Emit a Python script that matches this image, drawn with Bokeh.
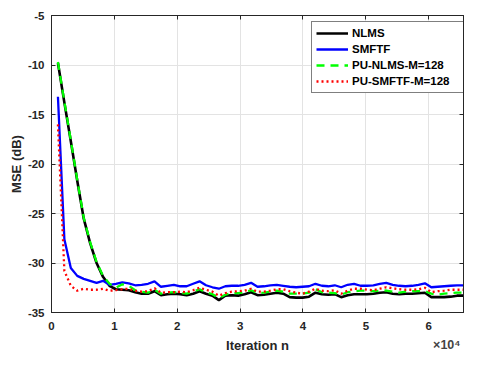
from bokeh.plotting import figure
from bokeh.models import Range1d, LinearAxis, FixedTicker, Legend, LegendItem, Label
from bokeh.embed import file_html
from bokeh.resources import INLINE

# ---- data ----
iterations = [1024 * k for k in range(1, 65)]

nlms = [-9.8, -13.8, -17.7, -21.7, -25.5, -28.0, -30.0, -31.4, -32.3,
        -32.65, -32.7, -32.75, -32.95, -33.1, -33.1, -32.85, -33.25, -33.15, -33.1,
        -33.15, -33.25, -33.1, -32.85, -33.1, -33.3, -33.75, -33.3, -33.25, -33.3,
        -33.15, -32.95, -33.25, -33.2, -33.1, -33.0, -33.1, -33.45, -33.5, -33.5,
        -33.4, -33.0, -33.15, -33.2, -33.15, -33.45, -33.25, -33.15, -33.15, -33.15,
        -33.1, -33.0, -32.95, -33.1, -33.15, -33.1, -33.1, -33.05, -33.0, -33.45,
        -33.45, -33.45, -33.4, -33.3, -33.3]

smftf = [-13.2, -27.6, -30.5, -31.3, -31.6, -31.8, -32.0, -31.8, -32.2,
         -32.1, -31.95, -32.05, -32.25, -32.2, -32.1, -31.85, -32.4, -32.3, -32.2,
         -32.35, -32.35, -32.1, -31.85, -32.25, -32.45, -32.6, -32.35, -32.3, -32.3,
         -32.2, -32.0, -32.4, -32.35, -32.25, -32.2, -32.3, -32.4, -32.45, -32.4,
         -32.35, -32.1, -32.3, -32.35, -32.25, -32.45, -32.2, -32.1, -32.3, -32.3,
         -32.25, -32.1, -32.0, -32.2, -32.3, -32.35, -32.3, -32.2, -32.05, -32.45,
         -32.4, -32.35, -32.3, -32.25, -32.25]

pu_nlms = [-9.7, -13.7, -17.6, -21.6, -25.4, -27.9, -29.9, -31.3, -32.1,
           -32.5, -32.15, -32.3, -32.75, -32.9, -33.0, -32.7, -33.1, -33.0, -32.95,
           -33.0, -33.1, -32.9, -32.65, -32.95, -33.15, -33.55, -33.2, -33.05, -33.05,
           -32.95, -32.75, -33.05, -33.0, -32.9, -32.8, -32.9, -33.1, -33.1, -33.1,
           -33.0, -32.65, -32.95, -33.0, -33.05, -33.2, -32.95, -32.85, -32.8, -32.8,
           -32.85, -32.8, -32.78, -32.9, -33.0, -32.9, -32.85, -32.85, -32.85, -33.1,
           -33.2, -33.1, -33.05, -33.0, -33.0]

pu_smftf = [-16.0, -30.8, -32.3, -32.8, -32.6, -32.7, -32.7, -32.6, -32.8,
            -32.75, -32.65, -32.6, -32.8, -32.9, -32.85, -32.55, -33.0, -32.95, -32.95,
            -32.9, -32.95, -32.75, -32.5, -32.7, -32.9, -33.3, -33.05, -32.9, -32.85,
            -32.8, -32.6, -32.9, -32.9, -32.8, -32.65, -32.65, -32.85, -33.0, -33.1,
            -32.9, -32.6, -32.8, -32.85, -32.75, -33.1, -32.8, -32.6, -32.6, -32.7,
            -32.75, -32.6, -32.45, -32.55, -32.65, -32.7, -32.7, -32.65, -32.5, -32.95,
            -32.85, -32.8, -32.7, -32.7, -32.7]

series_names = ["NLMS", "SMFTF", "PU-NLMS-M=128", "PU-SMFTF-M=128"]

x_ticks = [0, 10000, 20000, 30000, 40000, 50000, 60000]
x_tick_labels = ["0", "1", "2", "3", "4", "5", "6"]
y_ticks = [-35, -30, -25, -20, -15, -10, -5]
y_tick_labels = ["-35", "-30", "-25", "-20", "-15", "-10", "-5"]
x_exponent = "\u00d710\u2074"

FONT = "Liberation Sans"
AX = "#262626"

p = figure(width=464, height=361, x_range=Range1d(0, 65536), y_range=Range1d(-35, -5),
           output_backend="svg", toolbar_location=None,
           min_border_left=51, min_border_right=1, min_border_top=15, min_border_bottom=49,
           x_axis_location=None, y_axis_location=None)
p.outline_line_color = AX
p.outline_line_width = 1
p.background_fill_color = "white"
p.border_fill_color = "white"

def style_axis(ax, ticks, labels, show_labels):
    ax.ticker = FixedTicker(ticks=ticks)
    ax.axis_line_color = AX
    ax.axis_line_width = 1
    ax.major_tick_line_color = AX
    ax.major_tick_in = 4
    ax.major_tick_out = 0
    ax.minor_tick_line_color = None
    if show_labels:
        ax.major_label_overrides = {t: s for t, s in zip(ticks, labels)}
        ax.major_label_text_font = FONT
        ax.major_label_text_font_style = "bold"
        ax.major_label_text_font_size = "11.5px"
        ax.major_label_text_color = AX
    else:
        ax.major_label_overrides = {t: "" for t in ticks}
        ax.major_label_text_font_size = "1px"
        ax.major_label_standoff = 0

xb = LinearAxis()
style_axis(xb, x_ticks, x_tick_labels, True)
xb.major_label_standoff = 9
xb.axis_label = "Iteration n"
xb.axis_label_text_font = FONT
xb.axis_label_text_font_style = "bold"
xb.axis_label_text_font_size = "13px"
xb.axis_label_text_color = AX
xb.axis_label_standoff = 5
p.add_layout(xb, "below")

yl = LinearAxis()
style_axis(yl, y_ticks, y_tick_labels, True)
yl.major_label_standoff = 7
yl.axis_label = "MSE (dB)"
yl.axis_label_text_font = FONT
yl.axis_label_text_font_style = "bold"
yl.axis_label_text_font_size = "13px"
yl.axis_label_text_color = AX
yl.axis_label_standoff = 1
p.add_layout(yl, "left")

xt = LinearAxis()
style_axis(xt, x_ticks, x_tick_labels, False)
p.add_layout(xt, "above")
yr = LinearAxis()
style_axis(yr, y_ticks, y_tick_labels, False)
p.add_layout(yr, "right")

p.xgrid.ticker = FixedTicker(ticks=x_ticks)
p.ygrid.ticker = FixedTicker(ticks=y_ticks)
p.xgrid.grid_line_color = "#e3e3e3"
p.ygrid.grid_line_color = "#e3e3e3"

r1 = p.line(iterations, nlms, line_color="black", line_width=2.6)
r2 = p.line(iterations, smftf, line_color="#0000ff", line_width=2.3)
r3 = p.line(iterations, pu_nlms, line_color="#00ff00", line_width=2.3, line_dash="8 6")
r4 = p.line(iterations, pu_smftf, line_color="#ff0000", line_width=2.3, line_dash="2 3")

legend = Legend(items=[LegendItem(label=n, renderers=[r]) for n, r in
                       zip(series_names, [r1, r2, r3, r4])],
                location=(260, 219))
legend.label_text_font = FONT
legend.label_text_font_style = "bold"
legend.label_text_font_size = "11.5px"
legend.label_text_color = "black"
legend.glyph_width = 32
legend.glyph_height = 14
legend.label_height = 14
legend.label_width = 108
legend.label_standoff = 4
legend.spacing = 2
legend.padding = 4
legend.margin = 0
legend.border_line_color = "black"
legend.border_line_width = 1
legend.background_fill_color = "white"
legend.background_fill_alpha = 1
p.add_layout(legend, "center")

# exponent label: lives in the top side panel, positioned in data units below the x axis
p.add_layout(Label(x=60700, y=-38.3, text=x_exponent,
                   text_font=FONT, text_font_style="bold", text_font_size="12.5px",
                   text_color="#444444", text_baseline="middle", text_align="left"), "above")

open("out.html", "w").write(file_html(p, INLINE))
